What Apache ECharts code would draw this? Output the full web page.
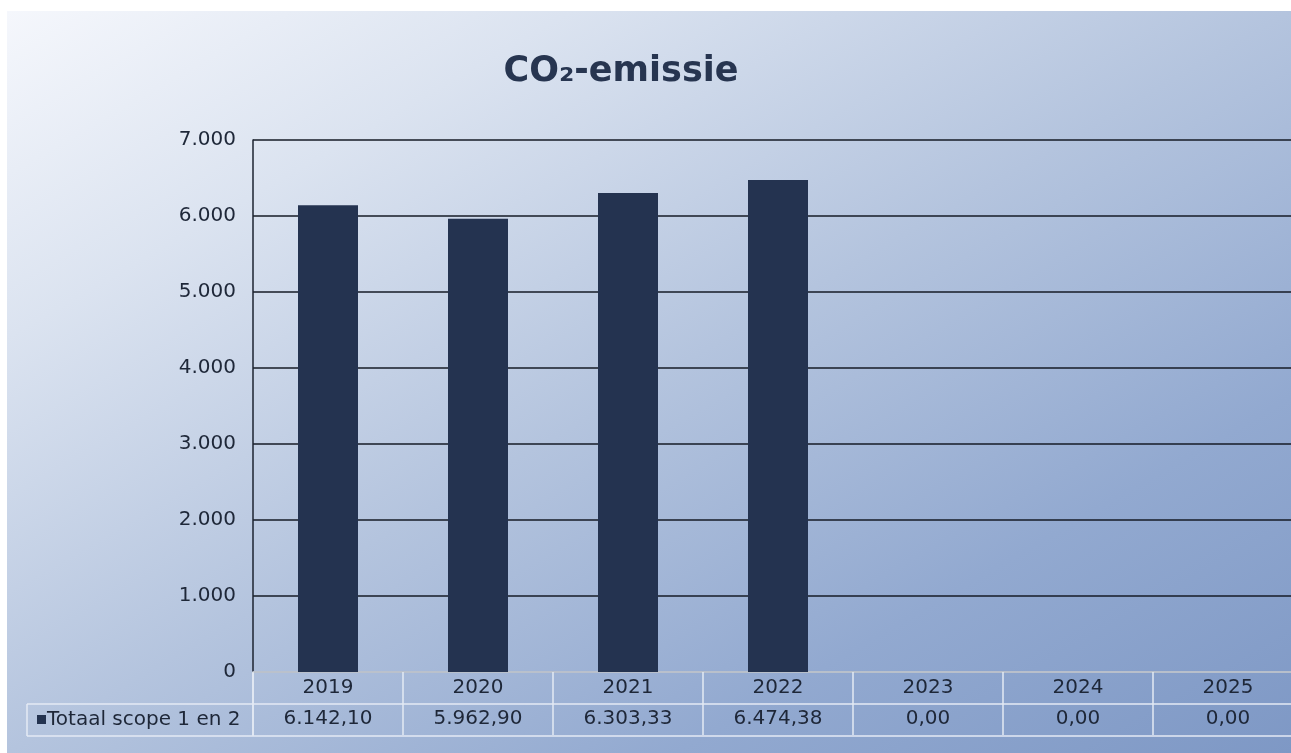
<!DOCTYPE html>
<html>
<head>
<meta charset="utf-8">
<script src="https://cdn.jsdelivr.net/npm/echarts@6/dist/echarts.min.js"></script>
<style>
  html, body { margin: 0; padding: 0; background: #ffffff; overflow: hidden; width: 1291px; height: 753px; }
  #bg { position: absolute; left: 7px; top: 11px; width: 1284px; height: 742px;
        background: linear-gradient(to bottom right, #f5f7fc 0%, #dbe3f0 22%, #b4c4de 50%, #92a9d0 76%, #7e98c5 100%); }
  #chart { position: absolute; left: 0; top: 0; width: 1320px; height: 753px; }
</style>
</head>
<body>
<div id="bg"></div>
<div id="chart"></div>
<script>
const categories = ['2019', '2020', '2021', '2022', '2023', '2024', '2025'];
const seriesName = 'Totaal scope 1 en 2';
const values = [6142.10, 5962.90, 6303.33, 6474.38, 0.00, 0.00, 0.00];
const yTicks = { min: 0, max: 7000, interval: 1000 };
const titleText = 'CO\u2082-emissie';

function nlFormat(v, dec) {
  const fixed = v.toFixed(dec);
  let [intPart, frac] = fixed.split('.');
  intPart = intPart.replace(/\B(?=(\d{3})+(?!\d))/g, '.');
  return frac !== undefined ? intPart + ',' + frac : intPart;
}

const FONT = '"DejaVu Sans", Verdana, sans-serif';
const TXT = '#1e2738';
const LINE_LIGHT = '#e4eaf4';

const chart = echarts.init(document.getElementById('chart'), null, { renderer: 'canvas' });

const gridLeft = 253, gridTop = 140, gridH = 532, catW = 150;

const option = {
  backgroundColor: 'transparent',
  animation: false,
  title: {
    text: titleText,
    left: 616, top: 49, textAlign: 'center',
    textStyle: { fontFamily: FONT, fontSize: 35, fontWeight: 'bold', color: '#273550' }
  },
  grid: { left: gridLeft, top: gridTop, width: catW * categories.length, height: gridH, containLabel: false },
  xAxis: {
    type: 'category',
    data: categories,
    axisLine: { show: true, lineStyle: { color: LINE_LIGHT, width: 1.5 } },
    axisTick: { show: true, length: 63, alignWithLabel: false, lineStyle: { color: LINE_LIGHT, width: 1.5 } },
    axisLabel: {
      interval: 0,
      margin: 0,
      formatter: function (val, idx) {
        return '{y|' + val + '}\n{v|' + nlFormat(values[idx], 2) + '}';
      },
      rich: {
        y: { fontFamily: FONT, fontSize: 20, color: TXT, lineHeight: 31, height: 31, align: 'center' },
        v: { fontFamily: FONT, fontSize: 20, color: TXT, lineHeight: 32, height: 32, align: 'center' }
      }
    }
  },
  yAxis: {
    type: 'value',
    min: yTicks.min, max: yTicks.max, interval: yTicks.interval,
    axisLine: { show: true, lineStyle: { color: '#1c2330', width: 1.5 } },
    axisTick: { show: false },
    axisLabel: {
      margin: 17,
      fontFamily: FONT, fontSize: 20, color: TXT,
      formatter: function (v) { return nlFormat(v, 0); }
    },
    splitLine: { show: true, lineStyle: { color: '#161b26', width: 1.6 } }
  },
  series: [{
    name: seriesName,
    type: 'bar',
    data: values,
    barWidth: 60,
    itemStyle: { color: '#243350' }
  }],
  graphic: [
    { type: 'line', shape: { x1: 27, y1: 704, x2: 1320, y2: 704 }, style: { stroke: LINE_LIGHT, lineWidth: 1.5 } },
    { type: 'line', shape: { x1: 27, y1: 736, x2: 1320, y2: 736 }, style: { stroke: LINE_LIGHT, lineWidth: 1.5 } },
    { type: 'line', shape: { x1: 27, y1: 704, x2: 27, y2: 736 }, style: { stroke: LINE_LIGHT, lineWidth: 1.5 } },
    { type: 'line', shape: { x1: 253, y1: 672, x2: 253, y2: 736 }, style: { stroke: LINE_LIGHT, lineWidth: 1.5 } },
    { type: 'rect', shape: { x: 37, y: 715, width: 9, height: 9 }, style: { fill: '#243350' } },
    { type: 'text', x: 47, y: 720, style: { text: seriesName, fontFamily: FONT, fontSize: 20, fill: TXT, textVerticalAlign: 'middle', verticalAlign: 'middle' } }
  ]
};
chart.setOption(option);
</script>
</body>
</html>
